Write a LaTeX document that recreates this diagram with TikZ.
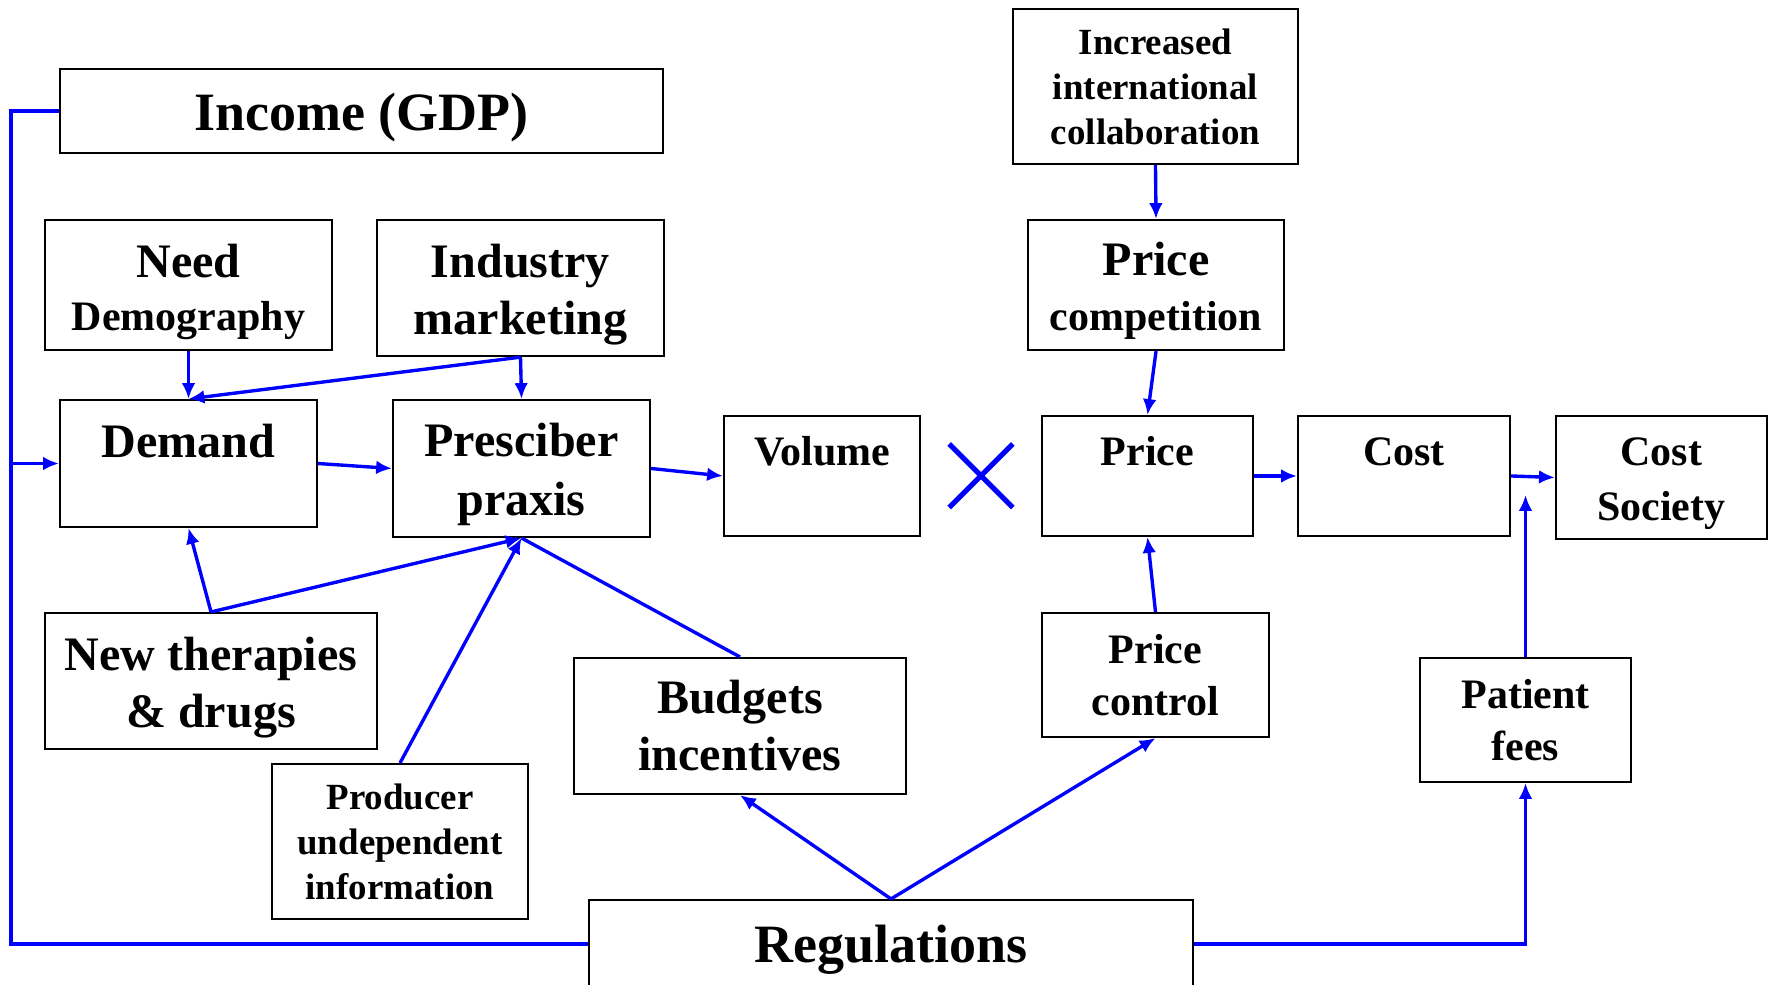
\documentclass[tikz,border=0pt]{standalone}
\usepackage{fontspec}
\setmainfont{Liberation Serif}
\usepackage{tikz}
\usetikzlibrary{arrows,arrows.meta,calc,positioning}

\begin{document}
\begin{tikzpicture}[>={Latex[length=7.5pt, width=6.5pt]}]
	\tikzstyle{every node} = [rectangle, draw = black, line width = 1pt, inner sep = 0pt, align = center]
	\tikzstyle{tbig} = [font = \fontsize{25.6}{30}\selectfont\bfseries]
	\tikzstyle{tmid} = [font = \fontsize{22.8}{27}\selectfont\bfseries]
	\tikzstyle{tsmall} = [font = \fontsize{19.9}{25}\selectfont\bfseries]
	\tikzstyle{ttiny} = [font = \fontsize{17.5}{21.4}\selectfont\bfseries]
	\tikzstyle{textdown} = [execute at begin node = {\rule{0pt}{\dimexpr 0.69em + 6pt\relax}}]
	\tikzstyle{link} = [draw, blue, line width = 1.6pt]
	\useasboundingbox (0, 0) rectangle (29.483, -16.4);

\node[tbig, textdown, minimum width = 10.05cm, minimum height = 1.40cm] (1) at (6.025, -1.85) {Income (GDP)};
\node[tmid, text height = 47.3pt, minimum width = 4.78cm, minimum height = 2.17cm] (2) at (3.142, -4.75) {Need\\[-2pt]{\fontsize{19.9}{25}\selectfont Demography}};
\node[tmid, text height = 48.7pt, minimum width = 4.78cm, minimum height = 2.27cm] (3) at (8.675, -4.8) {Industry\\marketing};
\node[tmid, minimum width = 4.283cm, minimum height = 2.117cm, text height = 16pt, text depth = 22pt] (4) at (3.142, -7.725) {Demand};
\node[tmid, text height = 49.7pt, minimum width = 4.283cm, minimum height = 2.283cm] (5) at (8.692, -7.808) {Presciber\\[1pt]praxis};
\node[tsmall, minimum width = 3.267cm, minimum height = 2.0cm, text height = 14pt, text depth = 23.5pt] (6) at (13.7, -7.933) {Volume};
\node[tsmall, minimum width = 3.517cm, minimum height = 2.0cm, text height = 14pt, text depth = 23.5pt] (7) at (19.125, -7.933) {Price};
\node[tsmall, minimum width = 3.533cm, minimum height = 2.0cm, text height = 14pt, text depth = 23.5pt] (8) at (23.4, -7.933) {Cost};
\node[tsmall, text height = 45.3pt, minimum width = 3.517cm, minimum height = 2.05cm] (9) at (27.69, -7.958) {Cost\\[1pt]Society};
\node[ttiny, minimum width = 4.75cm, minimum height = 2.583cm] (10) at (19.258, -1.442) {Increased\\international\\collaboration};
\node[tmid, text height = 47pt, minimum width = 4.267cm, minimum height = 2.167cm] (11) at (19.267, -4.75) {Price\\[-1pt]{\fontsize{19.9}{25}\selectfont competition}};
\node[tmid, text height = 48.7pt, minimum width = 5.533cm, minimum height = 2.267cm] (12) at (3.517, -11.35) {New therapies\\\& drugs};
\node[ttiny, minimum width = 4.267cm, minimum height = 2.583cm] (13) at (6.667, -14.025) {Producer\\undependent\\information};
\node[tmid, minimum width = 5.533cm, minimum height = 2.267cm] (14) at (12.333, -12.1) {Budgets\\incentives};
\node[tsmall, minimum width = 3.783cm, minimum height = 2.067cm] (15) at (19.258, -11.25) {Price\\control};
\node[tsmall, minimum width = 3.517cm, minimum height = 2.067cm] (16) at (25.425, -12.0) {Patient\\fees};
\node[tbig, textdown, minimum width = 10.067cm, minimum height = 1.467cm] (17) at (14.85, -15.733) {Regulations};

\coordinate (c1) at (0.183, -1.85);
\coordinate (c2) at (0.183, -15.733);
\coordinate (c3) at (0.183, -7.725);
\coordinate (c4) at (25.425, -8.25);

	% income feedback
	\path[link] (1.west) -- (c1) -- (c2) -- (17.west);
	\path[link, ->] (c3) -- (4.west);
	\path[link, ->] (2.south) -- (4.north);
	\path[link, ->] (3.south) -- (4.north);
	\path[link, ->] (3.south) -- (5.north);
	\path[link, ->] (4.east) -- (5.west);
	\path[link, ->] (5.east) -- (6.west);
	\path[link, ->] (12.north) -- (4.south);
	\path[link, ->] (12.north) -- (5.south);
	\path[link, ->] (13.north) -- (5.south);
	\path[link] (14.north) -- (5.south);
	\path[link, ->] (17.north) -- (14.south);
	\path[link, ->] (17.north) -- (15.south);
	\path[link, ->] (17.east) -| (16.south);
	\path[link, ->] (16.north) -- (c4);
	\path[link, ->] (15.north) -- (7.south);
	\path[link, ->] (10.south) -- (11.north);
	\path[link, ->] (11.south) -- (7.north);
	\path[link, ->] (7.east) -- (8.west);
	\path[link, ->] (8.east) -- (9.west);
	% the times sign
	\path[draw, blue, line width = 2.4pt] (15.82, -7.40) -- (16.88, -8.46);
	\path[draw, blue, line width = 2.4pt] (15.82, -8.46) -- (16.88, -7.40);
\end{tikzpicture}
\end{document}
